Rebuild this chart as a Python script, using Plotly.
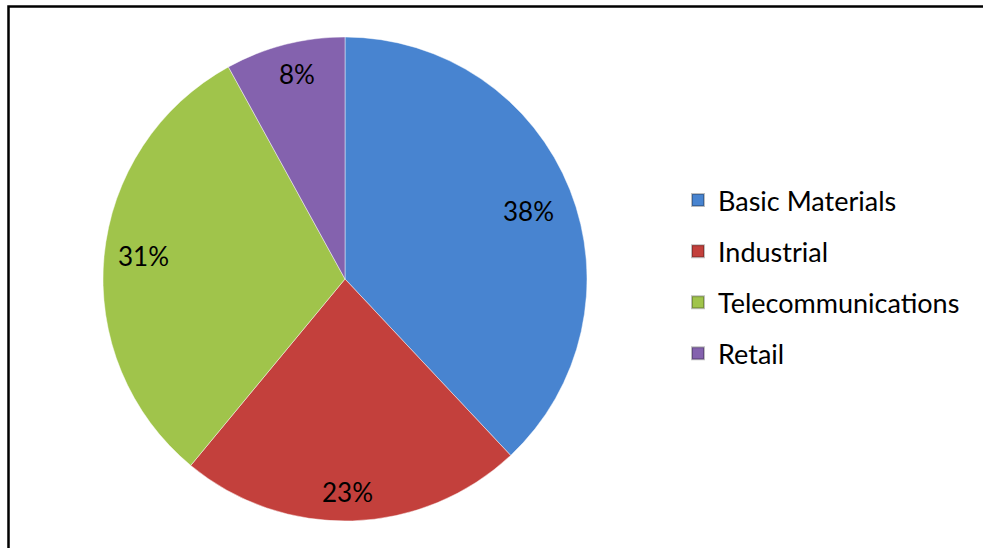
import math
import plotly.graph_objects as go

# Sector shares (%)
categories = ["Basic Materials", "Industrial", "Telecommunications", "Retail"]
shares = [38, 23, 31, 8]
colors = ["#4884D0", "#C3403C", "#A0C44B", "#8462AE"]

W, H = 983, 548
CX, CY, R = 345, 279, 242          # pie centre and radius in pixels
LABEL_RADIUS = [0.81, 0.88, 0.84, 0.87]  # label distance from centre, fraction of R
FONT = "Lato, 'Open Sans', sans-serif"

fig = go.Figure()

fig.add_trace(go.Pie(
    labels=categories,
    values=shares,
    sort=False,
    direction="clockwise",
    rotation=0,
    marker=dict(colors=colors, line=dict(color="rgba(255,255,255,0.45)", width=1)),
    textinfo="none",
    hoverinfo="label+percent",
    showlegend=False,
    domain=dict(x=[(CX - R) / W, (CX + R) / W],
                y=[1 - (CY + R) / H, 1 - (CY - R) / H]),
))

# Legend entries, one group per category so they can be spaced apart
for name, col in zip(categories, colors):
    fig.add_trace(go.Scatter(
        x=[None], y=[None], mode="markers", name=name, legendgroup=name,
        marker=dict(symbol="square", size=15, color=col,
                    line=dict(color="rgba(0,0,0,0.25)", width=1)),
    ))

# Percentage labels placed along each slice's mid-angle (slightly rotated)
total = sum(shares)
annotations = []
cum = 0
for val, rf in zip(shares, LABEL_RADIUS):
    mid = (cum + val / 2) / total * 2 * math.pi + math.radians(1.2)
    cum += val
    px = CX + rf * R * math.sin(mid)
    py = CY - rf * R * math.cos(mid)
    annotations.append(dict(
        x=px / W, y=1 - py / H, xref="paper", yref="paper",
        text=f"{round(val / total * 100)}%", showarrow=False,
        font=dict(family=FONT, size=26, color="#000000"),
        xanchor="center", yanchor="middle",
    ))

fig.update_layout(
    width=W, height=H,
    margin=dict(l=0, r=0, t=0, b=0),
    paper_bgcolor="white", plot_bgcolor="white",
    xaxis=dict(visible=False), yaxis=dict(visible=False),
    annotations=annotations,
    legend=dict(
        x=678 / W, y=1 - 277 / H, xanchor="left", yanchor="middle",
        font=dict(family=FONT, size=27, color="#000000"),
        tracegroupgap=13, itemsizing="constant",
        bgcolor="rgba(0,0,0,0)",
    ),
    shapes=[dict(
        type="rect", xref="paper", yref="paper",
        x0=8.5 / W, x1=1.05, y0=-0.05, y1=1 - 6.5 / H,
        line=dict(color="#000000", width=2.5), fillcolor="rgba(0,0,0,0)",
        layer="above",
    )],
)

fig.write_html("out.html")
